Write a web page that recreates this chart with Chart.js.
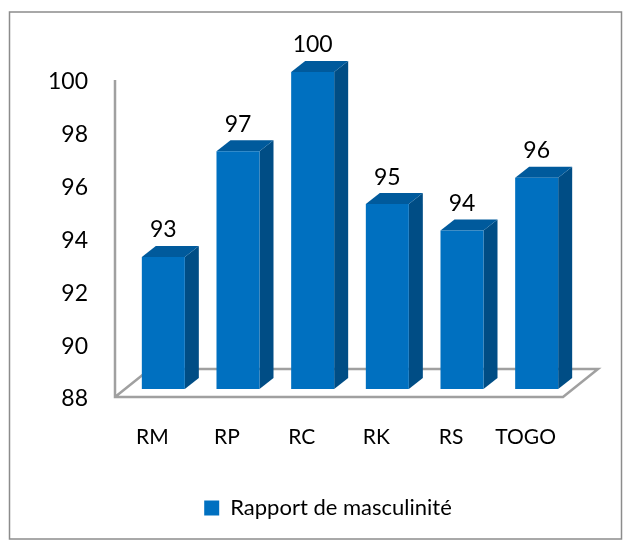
<!DOCTYPE html>
<html><head><meta charset="utf-8">
<script src="https://cdn.jsdelivr.net/npm/chart.js@4"></script>
<style>html,body{margin:0;padding:0;background:#fff}canvas{display:block}</style>
</head><body>
<div style="position:relative;width:629px;height:544px"><canvas id="c"></canvas></div>
<script>
const categories = ['RM','RP','RC','RK','RS','TOGO'];
const seriesName = 'Rapport de masculinité';
const values = [93,97,100,95,94,96];
const yTicks = [88,90,92,94,96,98,100];
const FONT = 'Lato, Carlito, sans-serif';
const SHIFT = {x:11, y:-8}, DEPTH = {x:14, y:11}, FLOOR = {x:35, y:-28};

const scene = {
  id:'scene',
  beforeDraw(chart){
    const {ctx,chartArea:a} = chart;
    ctx.save();
    ctx.fillStyle='#fff';ctx.fillRect(0,0,chart.width,chart.height);
    ctx.strokeStyle='#8c8c8c';ctx.lineWidth=1.5;
    ctx.strokeRect(9.5,12,612,527);
    ctx.strokeStyle='#a0a0a0';ctx.lineWidth=2.5;ctx.lineJoin='miter';
    ctx.beginPath();
    ctx.moveTo(a.left,a.top);ctx.lineTo(a.left,a.bottom);
    ctx.lineTo(a.right,a.bottom);ctx.lineTo(a.right+FLOOR.x,a.bottom+FLOOR.y);
    ctx.lineTo(a.left+FLOOR.x,a.bottom+FLOOR.y);ctx.lineTo(a.left,a.bottom);
    ctx.stroke();
    ctx.restore();
  },
  beforeDatasetDraw(chart){
    const ctx=chart.ctx;ctx.save();ctx.translate(SHIFT.x,SHIFT.y);
    chart.getDatasetMeta(0).data.forEach(b=>{
      const l=b.x-b.width/2,r=b.x+b.width/2,t=b.y,bo=b.base;
      ctx.fillStyle='#004d85';
      ctx.beginPath();ctx.moveTo(r,t);ctx.lineTo(r+DEPTH.x,t-DEPTH.y);ctx.lineTo(r+DEPTH.x,bo-DEPTH.y);ctx.lineTo(r,bo);ctx.closePath();ctx.fill();
      ctx.fillStyle='#005a9c';
      ctx.beginPath();ctx.moveTo(l,t);ctx.lineTo(l+DEPTH.x,t-DEPTH.y);ctx.lineTo(r+DEPTH.x,t-DEPTH.y);ctx.lineTo(r,t);ctx.closePath();ctx.fill();
    });
  },
  afterDatasetDraw(chart){
    const ctx=chart.ctx;
    ctx.fillStyle='#000';ctx.font='23px '+FONT;ctx.textAlign='center';ctx.textBaseline='middle';
    chart.getDatasetMeta(0).data.forEach((b,i)=>{
      ctx.fillText(String(values[i]),b.x,b.y-27);
    });
    ctx.restore();
  }
};

new Chart(document.getElementById('c'),{
  type:'bar',
  data:{labels:categories,datasets:[{label:seriesName,data:values,base:88,backgroundColor:'#0070c0',
    barPercentage:0.576,categoryPercentage:1,clip:false}]},
  options:{
    responsive:true,maintainAspectRatio:false,animation:false,
    layout:{padding:{left:27,right:0,top:80,bottom:15}},
    plugins:{
      tooltip:{enabled:false},
      legend:{position:'bottom',
        labels:{boxWidth:15,boxHeight:15,padding:8,color:'#000',font:{family:FONT,size:22}}}
    },
    scales:{
      x:{grid:{display:false},border:{display:false},
        ticks:{color:'#000',font:{family:FONT,size:21},padding:20,maxRotation:0,autoSkip:false},
        afterFit(s){s.height=92;}},
      y:{min:88,max:100,afterBuildTicks(s){s.ticks=yTicks.map(v=>({value:v}));},
        grid:{display:false},border:{display:false},
        afterFit(s){s.width=88;},
        ticks:{color:'#000',font:{family:FONT,size:23},padding:19,labelOffset:2}},
      y2:{position:'right',grid:{display:false},border:{display:false},
        ticks:{display:false},afterFit(s){s.width=66;}}
    }
  },
  plugins:[scene]
});
</script>
</body></html>
